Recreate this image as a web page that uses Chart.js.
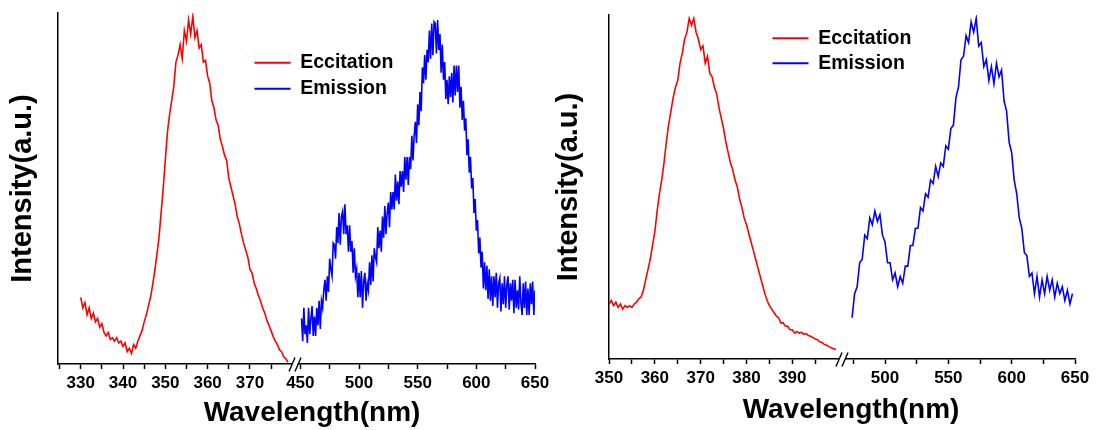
<!DOCTYPE html>
<html>
<head>
<meta charset="utf-8">
<script src="https://cdn.jsdelivr.net/npm/chart.js@4.4.1/dist/chart.umd.min.js"></script>
<style>
html, body { margin: 0; padding: 0; background: #fff; overflow: hidden; }
#wrap { position: relative; width: 1096px; height: 430px; overflow: hidden; background: #fff; }
#wrap canvas { position: absolute; top: 0; }
#cL { left: 0; }
#cR { left: 548px; }
</style>
</head>
<body>
<div id="wrap">
  <canvas id="cL" width="624" height="430"></canvas>
  <canvas id="cR" width="606" height="430"></canvas>
</div>
<script>
// ---------------- DATA ----------------
// Left panel: excitation (330–379 nm, 0.5 nm grid), emission (451–650 nm, 1 nm grid)
const leftExStart = 330, leftExStep = 0.5;
const leftExIntensity = [
  19,16,17.5,14,16,13,14.5,12,13,10.5,
  11.5,9,8,9,7,7.5,6.5,7.5,6,6.5,
  5,6,3.5,4.5,3,5.5,4.5,6.5,8,9.5,
  12,14,16.5,19,22.5,26.5,31,36,43,50,
  58,66,71,75,79,86,88,91,87,95,
  92,98,94,99,93,95,90,91,86,86.5,
  82,80,75,73,69.5,68,64,62,59.5,58,
  53,50.5,48,45.5,42,40,37,34.5,32.5,30.5,
  27,26,23,21.5,19.5,18,16,14.5,12.5,11,
  9.5,7.8,6.5,5.5,4,3.5,2,1.5,0.5
];
const leftEmStart = 451, leftEmStep = 1;
const leftEmIntensity = [
  13,6.5,16,8.5,11,6,16,8.5,13,16.5,
  8,13.5,8,16,11,18,10,18,16,21,
  24,18,25,20.5,30,27,25,34.5,34,30,
  39,34.5,43,34,42,43.5,37,45.5,37,39.5,
  32,39.5,32,35,26,33,25,27,19,26,
  19,26.5,16,23.5,26,18,23,21,29,22.5,
  31,23.5,33,30.5,29,39,33,38,32,42,
  36,45,37,43,46,39,49,44,49,44,
  54,46.5,52,45.5,55,50.5,55,49,59,52.5,
  59,51,59,55.5,65,58,65,69,63,74,
  68,77.5,72,84.5,80,88,81,89.5,86,95,
  87,97,88,97.5,97,88.5,98,89.5,94,83,
  91,81,86,75.5,81,74,82,76,83,74.5,
  85,76.5,85,77.5,85,73,79,69.5,75,66.5,
  70,59.5,64,54.5,59,50,53,43,47,38,
  41,31.5,36,27.5,32,21.5,29,21,28,18.5,
  27,18,25,16.5,25,19,26,16,23,24.5,
  15,23,17,25,16,22.5,25,15.5,23,18,
  24,14.5,24,16,21,15.5,25,17.5,14,23,
  16,23.5,14,21.5,14,23,17,23.5,14,21
];
const leftExRange = [324.63, 380.66];
const leftEmRange = [445.45, 650];
const leftExMajor = [330, 340, 350, 360, 370];
const leftExMinor = [325, 335, 345, 355, 365, 375];
const leftEmMajor = [450, 500, 550, 600, 650];
const leftEmMinor = [475, 525, 575, 625];

// Right panel: excitation (350–399.5 nm, 0.5 nm grid), emission (474–648 nm, 2 nm grid)
const rightExStart = 350, rightExStep = 0.5;
const rightExIntensity = [
  16,17,15.5,16.5,15,16,14.5,15.5,15,15.5,
  15,16,16.5,17.5,18,20,23,26,29,33,
  37,43,48,52,57,63,68,72,76,79,
  81,86,89,93,95,99,97,99,95,93,
  90,91,86,88,83,82,79,77,73,70,
  67,63,60,57,55,52,50,46.5,44,41,
  39,36.5,34,31.5,29,26.5,24,21.5,19,17,
  15.5,14.5,13.5,12.5,12,10.5,10.5,9.5,9.5,8.5,
  8.5,7.5,8,7.5,7.8,7.2,7.4,6.8,6.6,6.2,
  5.8,5.6,5,4.8,4.2,4,3.6,3.3,3,2.8
];
const rightEmStart = 474, rightEmStep = 2;
const rightEmIntensity = [
  12,19,21,28,29,36,35,41,39,43,
  40,42,36,34,28,28,23,25,21,24,
  22,27,27,33,33,38,38,44,43,48,
  47,52,51,56,53,57,56,62,61,67,
  68,76,79,87,88,94,92,98,95,99,
  91,92,85,87,81,85,80,86,82,84,
  75,72,63,60,52,48,41,38,31,30,
  24,25,19,24,18,23,19,24,20,23,
  18,22,19,21,17,20,16,19
];
const rightExRange = [350, 400.84];
const rightEmRange = [466.05, 650];
const rightExMajor = [350, 360, 370, 380, 390];
const rightExMinor = [355, 365, 375, 385, 395];
const rightEmMajor = [500, 550, 600, 650];
const rightEmMinor = [475, 525, 575, 625];

const seriesLabels = ['Eccitation', 'Emission'];
const xTitle = 'Wavelength(nm)';
const yTitle = 'Intensity(a.u.)';

// ---------------- RENDERING ----------------
const FONT = "'Liberation Sans', Arial, Helvetica, sans-serif";
const RED = '#ff0000', BLUE = '#0000ff';

function series(start, step, vals) {
  return vals.map((v, i) => ({ x: start + i * step, y: v }));
}

const legendPlace = {
  id: 'legendPlace',
  beforeDraw(chart, args, opts) {
    const lg = chart.legend;
    if (!lg) return;
    const w = lg.width, h = lg.height;
    lg.left = opts.x; lg.top = opts.y;
    lg.right = opts.x + w; lg.bottom = opts.y + h;
  }
};

const axisBreak = {
  id: 'axisBreak',
  afterDraw(chart) {
    const s = chart.scales.x1;
    const ctx = chart.ctx;
    const x = s.right, y = s.top + 0.5;
    ctx.save();
    ctx.fillStyle = '#fff';
    ctx.fillRect(x - 3, y - 2.5, 6, 5);
    ctx.strokeStyle = '#000';
    ctx.lineWidth = 1.4;
    for (const dx of [-3, 3]) {
      ctx.beginPath();
      ctx.moveTo(x + dx - 3, y + 7);
      ctx.lineTo(x + dx + 3, y - 7);
      ctx.stroke();
    }
    ctx.restore();
  }
};

function xScale(range, weight, major, minor, h) {
  return {
    type: 'linear', axis: 'x', position: 'bottom', stack: 'wl', stackWeight: weight,
    min: range[0], max: range[1],
    afterBuildTicks: s => { s.ticks = major.concat(minor).sort((a, b) => a - b).map(v => ({ value: v })); },
    afterFit: s => { s.height = h; },
    grid: { display: true, drawOnChartArea: false, drawTicks: true, tickLength: 5, tickWidth: 1.5, color: '#000' },
    border: { display: true, color: '#000', width: 1.5 },
    ticks: {
      color: '#000', autoSkip: false, maxRotation: 0, minRotation: 0, padding: 4,
      font: { family: FONT, size: 17, weight: 'bold' },
      callback: v => major.includes(v) ? String(v) : ''
    }
  };
}

function buildChart(id, p) {
  return new Chart(document.getElementById(id), {
    type: 'line',
    data: {
      datasets: [
        { label: seriesLabels[0], data: p.ex, xAxisID: 'x1', yAxisID: 'y',
          borderColor: RED, backgroundColor: RED, borderWidth: 1.6, pointRadius: 0, tension: 0 },
        { label: seriesLabels[1], data: p.em, xAxisID: 'x2', yAxisID: 'y',
          borderColor: BLUE, backgroundColor: BLUE, borderWidth: 1.6, pointRadius: 0, tension: 0 }
      ]
    },
    options: {
      responsive: false, animation: false, devicePixelRatio: 1, events: [],
      layout: { padding: p.padding },
      scales: {
        x1: xScale(p.exRange, p.w1, p.exMajor, p.exMinor, p.axisH),
        x2: xScale(p.emRange, p.w2, p.emMajor, p.emMinor, p.axisH),
        y: {
          type: 'linear', axis: 'y', position: 'left', min: 0, max: 100,
          afterFit: s => { s.width = p.yWidth; },
          grid: { display: true, drawOnChartArea: false, drawTicks: false },
          border: { display: true, color: '#000', width: 1.5 },
          ticks: { display: false },
          title: { display: true, text: yTitle, color: '#000',
                   font: { family: FONT, size: 29, weight: 'bold', lineHeight: 1.2 },
                   padding: { top: p.yTitlePad, bottom: 0 } }
        },
        yPad: {
          type: 'linear', axis: 'y', position: 'right', display: true,
          afterFit: s => { s.width = p.rightGap; },
          grid: { display: false }, border: { display: false }, ticks: { display: false }
        }
      },
      plugins: {
        tooltip: { enabled: false },
        title: {
          display: true, position: 'bottom', text: xTitle, color: '#000',
          font: { family: FONT, size: 28, weight: 'bold', lineHeight: 1.2 },
          padding: { top: 0, bottom: 0 }
        },
        legend: {
          display: true, position: 'chartArea', align: 'start',
          labels: {
            color: '#000', boxWidth: 36, boxHeight: 2, padding: p.legendPad,
            font: { family: FONT, size: 19.5, weight: 'bold' },
            generateLabels: chart => Chart.defaults.plugins.legend.labels.generateLabels(chart)
              .map(it => Object.assign(it, { lineWidth: 0 }))
          }
        },
        legendPlace: { x: p.legendX, y: p.legendY }
      }
    },
    plugins: [legendPlace, axisBreak]
  });
}

buildChart('cL', {
  ex: series(leftExStart, leftExStep, leftExIntensity),
  em: series(leftEmStart, leftEmStep, leftEmIntensity),
  exRange: leftExRange, emRange: leftEmRange,
  exMajor: leftExMajor, exMinor: leftExMinor, emMajor: leftEmMajor, emMinor: leftEmMinor,
  w1: 237, w2: 240, axisH: 32,
  padding: { left: 0, right: 0, top: 13, bottom: 0.4 },
  yWidth: 58, rightGap: 89, yTitlePad: 6,
  legendX: 248, legendY: 46.5, legendPad: 6.5
});

buildChart('cR', {
  ex: series(rightExStart, rightExStep, rightExIntensity),
  em: series(rightEmStart, rightEmStep, rightEmIntensity),
  exRange: rightExRange, emRange: rightEmRange,
  exMajor: rightExMajor, exMinor: rightExMinor, emMajor: rightEmMajor, emMinor: rightEmMinor,
  w1: 233, w2: 233, axisH: 34,
  padding: { left: 0, right: 0, top: 15, bottom: 3.4 },
  yWidth: 61, rightGap: 79, yTitlePad: 4,
  legendX: 219, legendY: 23, legendPad: 5.5
});
</script>
</body>
</html>
